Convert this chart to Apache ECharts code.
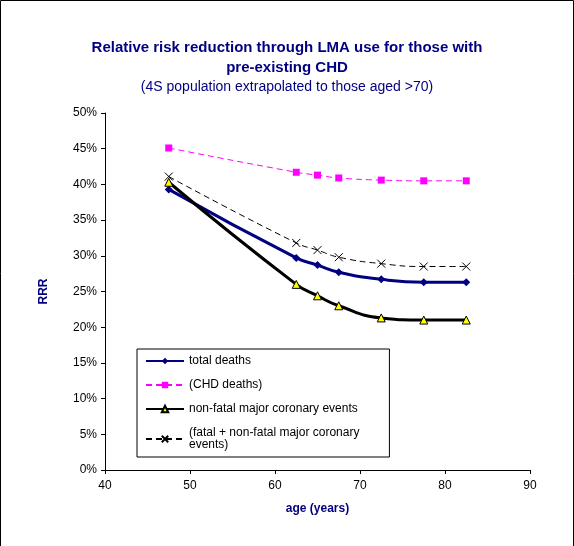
<!DOCTYPE html>
<html>
<head>
<meta charset="utf-8">
<script src="https://cdn.jsdelivr.net/npm/echarts@6/dist/echarts.min.js"></script>
<style>body{margin:0;background:#fff}#main{width:574px;height:546px}</style>
</head>
<body>
<div id="main"></div>
<script>
var ages = [47.5, 62.5, 65, 67.5, 72.5, 77.5, 82.5];
var totalDeaths = [39.3, 29.7, 28.7, 27.7, 26.7, 26.3, 26.3];
var chdDeaths = [45.1, 41.7, 41.3, 40.9, 40.6, 40.5, 40.5];
var nonFatal = [40.3, 26.0, 24.4, 23.0, 21.3, 21.0, 21.0];
var fatalNonFatal = [41.1, 31.8, 30.8, 29.8, 28.9, 28.5, 28.5];

function pairs(v) { return ages.map(function (a, i) { return [a, v[i]]; }); }

var chart = echarts.init(document.getElementById('main'));
chart.setOption({
  animation: false,
  title: [{
    text: 'Relative risk reduction through LMA use for those with\npre-existing CHD',
    left: 'center', top: 33,
    textStyle: { fontFamily: 'Arial', fontSize: 15, fontWeight: 'bold', color: '#000080', lineHeight: 20 }
  }, {
    text: '(4S population extrapolated to those aged >70)',
    left: 'center', top: 75,
    textStyle: { fontFamily: 'Arial', fontSize: 14, fontWeight: 'normal', color: '#000080' }
  }],
  grid: { left: 105, right: 44, top: 113, bottom: 76 },
  xAxis: {
    type: 'value', min: 40, max: 90, interval: 10,
    name: 'age (years)', nameLocation: 'middle', nameGap: 33,
    nameTextStyle: { fontFamily: 'Arial', fontSize: 12, fontWeight: 'bold', color: '#000080' },
    axisLine: { lineStyle: { color: '#000' } },
    axisTick: { length: 4 },
    axisLabel: { fontFamily: 'Arial', fontSize: 12, color: '#000', margin: 10 },
    splitLine: { show: false }
  },
  yAxis: {
    type: 'value', min: 0, max: 50, interval: 5,
    name: 'RRR', nameLocation: 'middle', nameGap: 55,
    nameTextStyle: { fontFamily: 'Arial', fontSize: 12, fontWeight: 'bold', color: '#000080' },
    axisLine: { show: true, lineStyle: { color: '#000' } },
    axisTick: { show: true, length: 4 },
    axisLabel: { fontFamily: 'Arial', fontSize: 12, color: '#000', formatter: '{value}%' },
    splitLine: { show: false }
  },
  legend: {
    orient: 'vertical', left: 137, top: 349, width: 262, height: 118,
    backgroundColor: '#fff', borderColor: '#000', borderWidth: 1,
    padding: [6, 30, 6, 8], itemGap: 12, itemWidth: 38, itemHeight: 8,
    textStyle: { fontFamily: 'Arial', fontSize: 12, color: '#000' },
    data: ['total deaths', '(CHD deaths)', 'non-fatal major coronary events', '(fatal + non-fatal major coronary\nevents)']
  },
  series: [{
    name: 'total deaths', type: 'line', smooth: true, data: pairs(totalDeaths),
    symbol: 'diamond', symbolSize: 8,
    lineStyle: { color: '#000080', width: 3 }, itemStyle: { color: '#000080' }
  }, {
    name: '(CHD deaths)', type: 'line', smooth: true, data: pairs(chdDeaths),
    symbol: 'rect', symbolSize: 7,
    lineStyle: { color: '#ff00ff', width: 1, type: [6, 4] }, itemStyle: { color: '#ff00ff' }
  }, {
    name: 'non-fatal major coronary events', type: 'line', smooth: true, data: pairs(nonFatal),
    symbol: 'triangle', symbolSize: 8,
    lineStyle: { color: '#000', width: 3 }, itemStyle: { color: '#ffff00', borderColor: '#000', borderWidth: 1 }
  }, {
    name: '(fatal + non-fatal major coronary\nevents)', type: 'line', smooth: true, data: pairs(fatalNonFatal),
    symbol: 'path://M0,0L10,10M10,0L0,10', symbolSize: 8,
    lineStyle: { color: '#000', width: 1, type: [6, 4] }, itemStyle: { color: '#000', borderColor: '#000', borderWidth: 1 }
  }],
  graphic: [{ type: 'rect', shape: { x: 0.5, y: 0.5, width: 573, height: 560 }, style: { fill: 'none', stroke: '#000' }, silent: true }]
});
</script>
</body>
</html>
